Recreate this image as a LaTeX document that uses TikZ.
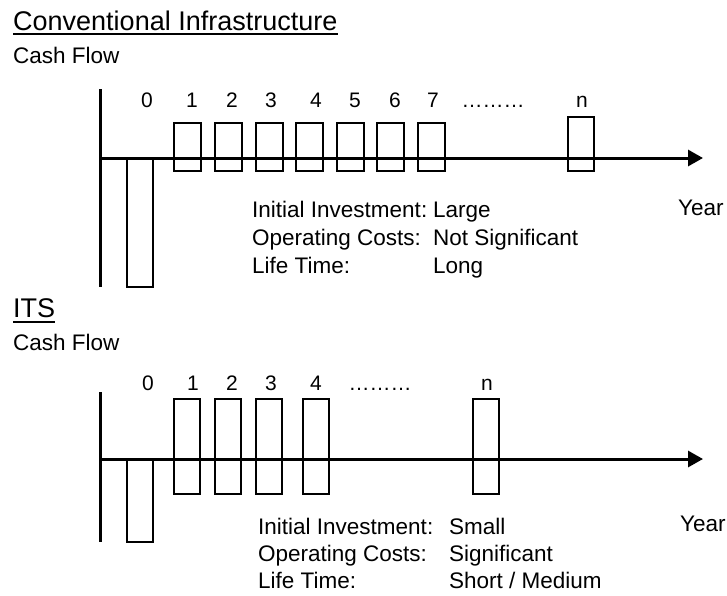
\documentclass[tikz,border=0pt]{standalone}
\usepackage{fontspec}
\setmainfont{Liberation Sans}
\usetikzlibrary{arrows.meta,calc}
\begin{document}
\begin{tikzpicture}[x=1pt,y=-1pt,
  axis/.style={line width=3pt},
  bar/.style={draw,line width=1.4pt},
  lbl/.style={anchor=base west,inner sep=0pt,font=\fontsize{22.5}{26}\selectfont},
  yrlbl/.style={anchor=base,inner sep=0pt,font=\fontsize{21}{24}\selectfont},
  dotlbl/.style={anchor=base,inner sep=0pt,font=\fontsize{21}{24}\selectfont},
  head/.style={anchor=base west,inner sep=0pt,font=\fontsize{27}{32}\selectfont},
  uline/.style={line width=1.5pt},
  axtip/.style={-{Triangle[length=15pt,width=16pt]}}]
\useasboundingbox (0,0) rectangle (727,595);

% ---------- Conventional infrastructure ----------
\node[head] (t1) at (13,30) {Conventional Infrastructure};
\draw[uline] ($(t1.base west)+(0,4)$) -- ($(t1.base east)+(0,4)$);
\node[lbl] (cf1) at (13,63) {Cash Flow};

% bars: year 0 investment, years 1..7 and n returns
\draw[bar] (127,158) rectangle (153,287);
\foreach \x in {174,215,256,296,337,377,418}
  \draw[bar] (\x,123) rectangle ++(27,48);
\draw[bar] (568,117) rectangle (594,171);

% axes
\coordinate (a1top) at (100,89);
\coordinate (a1bot) at (100,287);
\coordinate (a1o) at (100,158);
\coordinate (a1end) at (703,158);
\draw[axis] (a1top) -- (a1bot);
\draw[axis,axtip] (a1o) -- (a1end);

% year labels
\foreach \x/\t in {147/0,192/1,232/2,271/3,316/4,355/5,395/6,433/7,582/n}
  \node[yrlbl] (y1-\t) at (\x,107) {\t};
\node[dotlbl] (dots1) at (493,107) {………};

\node[lbl] (year1) at (678,215) {Year};
\node[lbl] (ii1) at (252,217) {Initial Investment:};
\node[lbl] (oc1) at (252,245) {Operating Costs:};
\node[lbl] (lt1) at (252,273) {Life Time:};
\node[lbl] (iv1) at (433,217) {Large};
\node[lbl] (ov1) at (433,245) {Not Significant};
\node[lbl] (lv1) at (433,273) {Long};

% ---------- ITS ----------
\node[head] (t2) at (13,317) {ITS};
\draw[uline] ($(t2.base west)+(0,5)$) -- ($(t2.base east)+(0,5)$);
\node[lbl] (cf2) at (13,350) {Cash Flow};

\draw[bar] (127,459) rectangle (153,542);
\foreach \x in {174,215,256,303,473}
  \draw[bar] (\x,399) rectangle ++(26,95);

\coordinate (a2top) at (100,392);
\coordinate (a2bot) at (100,542);
\coordinate (a2o) at (100,459);
\coordinate (a2end) at (703,459);
\draw[axis] (a2top) -- (a2bot);
\draw[axis,axtip] (a2o) -- (a2end);

\foreach \x/\t in {148/0,193/1,232/2,271/3,316/4,487/n}
  \node[yrlbl] (y2-\t) at (\x,390) {\t};
\node[dotlbl] (dots2) at (380,390) {………};

\node[lbl] (year2) at (680,531) {Year};
\node[lbl] (ii2) at (258,534) {Initial Investment:};
\node[lbl] (oc2) at (258,561) {Operating Costs:};
\node[lbl] (lt2) at (258,588) {Life Time:};
\node[lbl] (iv2) at (449,534) {Small};
\node[lbl] (ov2) at (449,561) {Significant};
\node[lbl] (lv2) at (449,588) {Short / Medium};
\end{tikzpicture}
\end{document}
